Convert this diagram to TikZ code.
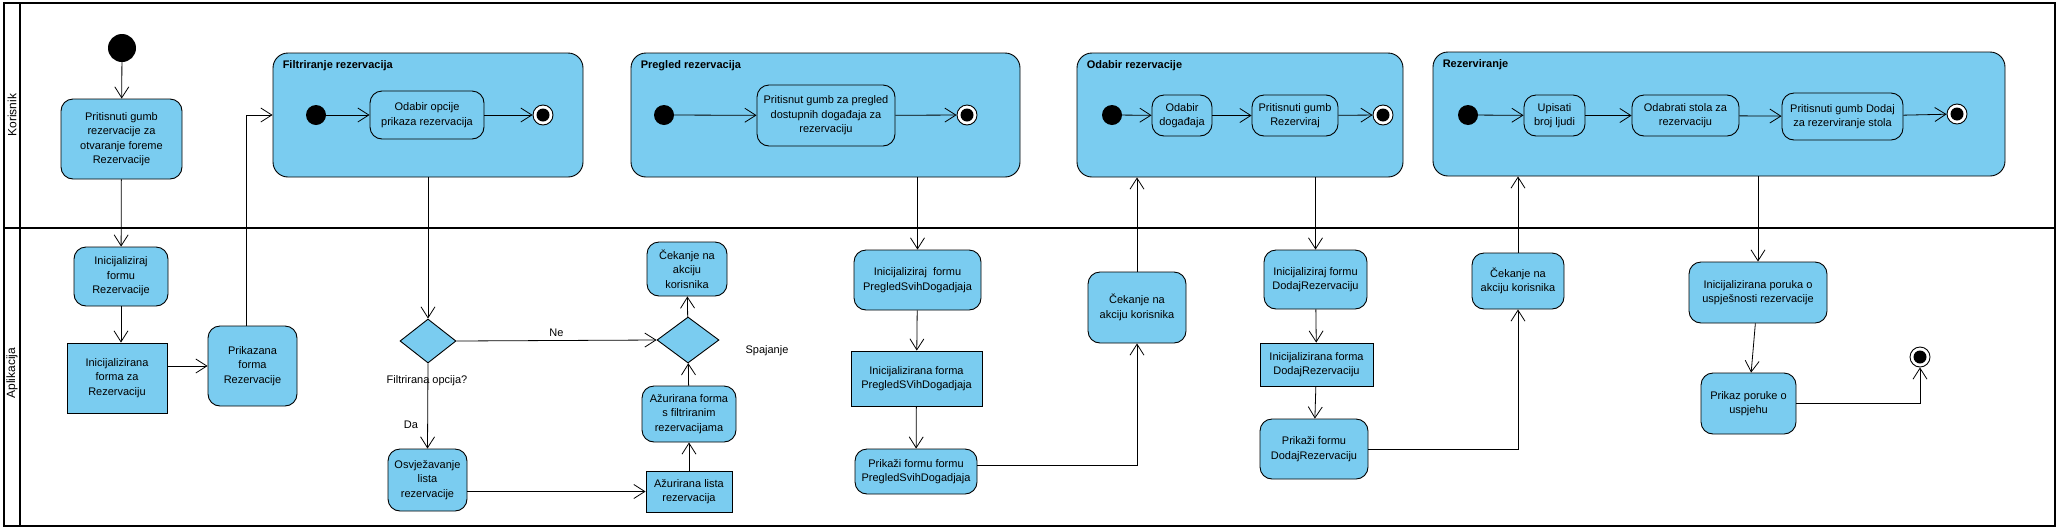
\documentclass[tikz,border=0pt]{standalone}
\usepackage{fontspec}
\setmainfont{Liberation Sans}
\usepackage{tikz}
\usetikzlibrary{arrows.meta,positioning,shapes.geometric,calc}
\definecolor{vpblue}{RGB}{122,204,240}
\newcommand{\vpfont}{\fontsize{11}{14.5}\selectfont}
\tikzset{
  line/.style={-{Straight Barb[length=11pt,width=14pt]}, line width=0.8pt},
  wh/.style 2 args={minimum width=#1pt, minimum height=#2pt},
  actbox/.style={draw, fill=vpblue, rounded corners=12pt, align=center, inner sep=2pt, line width=0.9pt},
  objbox/.style={draw, fill=vpblue, align=center, inner sep=2pt, line width=0.9pt},
  grpbox/.style={draw, fill=vpblue, rounded corners=15pt, line width=0.9pt},
  grptitle/.style={font=\vpfont\bfseries, inner sep=0pt, anchor=west},
  initnode/.style={circle, fill=black, inner sep=0pt, minimum size=20pt},
  finalnode/.style={circle, draw, fill=white, inner sep=0pt, minimum size=20pt, line width=0.9pt,
    path picture={\fill[black] (path picture bounding box.center) circle[radius=6.5pt];}},
  decision/.style={diamond, draw, fill=vpblue, inner sep=0pt, line width=0.9pt}
}

\begin{document}
\begin{tikzpicture}[x=1pt, y=-1pt, font=\vpfont]
  \useasboundingbox (0,0) rectangle (2059,531);
  \fill[white] (0,0) rectangle (2059,531);

  % swimlanes
  \draw[line width=1.4pt] (4,3) rectangle (2055,526);
  \draw[line width=2pt] (20,3) -- (20,526);
  \draw[line width=2pt] (4,228) -- (2055,228);
  \node[rotate=90, font=\fontsize{12}{14}\selectfont] (korisnik) at (12,115) {Korisnik};
  \node[rotate=90, font=\fontsize{12}{14}\selectfont] (aplikacija) at (12,373) {Aplikacija};

  % otvaranje forme
  \node[initnode, minimum size=28pt] (init) at (122,48) {};
  \node[actbox, wh={121}{80}] (gumbRez) at (121.5,139) {Pritisnuti gumb\\rezervacije za\\otvaranje foreme\\Rezervacije};
  \node[actbox, wh={94}{59}] (initRez) at (121,276.5) {Inicijaliziraj\\formu\\Rezervacije};
  \node[objbox, wh={100}{70}] (formaRez) at (117,378) {Inicijalizirana\\forma za\\Rezervaciju};
  \node[actbox, wh={89}{80}] (prikRez) at (252.5,366) {Prikazana\\forma\\Rezervacije};

  % filtriranje
  \node[grpbox, wh={310}{124}] (filt) at (428,115) {};
  \node[grptitle] (filtT) at ([xshift=10pt,yshift=-13pt]filt.north west) {Filtriranje rezervacija};
  \node[initnode] (filtI) at (316,115) {};
  \node[actbox, wh={114}{48}] (odabOpc) at (427,115) {Odabir opcije\\prikaza rezervacija};
  \node[finalnode] (filtF) at (543,115) {};

  \node[decision, wh={56}{44}] (filtDec) at (428,341) {};
  \node (filtLbl) at (427,381) {Filtrirana opcija?};
  \node[actbox, wh={79}{62}] (osvj) at (427.5,480) {Osvježavanje\\lista\\rezervacije};
  \node[objbox, wh={86}{41}] (azLista) at (689,491.5) {Ažurirana lista\\rezervacija};
  \node[actbox, wh={94}{56}] (azForma) at (689,414) {Ažurirana forma\\s filtriranim\\rezervacijama};
  \node[decision, wh={62}{46}] (spaj) at (688,340) {};
  \node (spajLbl) at (767,351) {Spajanje};
  \node[actbox, wh={80}{54}] (cekanje1) at (687,269) {Čekanje na\\akciju\\korisnika};

  % pregled
  \node[grpbox, wh={389}{124}] (preg) at (825.5,115) {};
  \node[grptitle] (pregT) at ([xshift=10pt,yshift=-13pt]preg.north west) {Pregled rezervacija};
  \node[initnode] (pregI) at (664,115) {};
  \node[actbox, wh={138}{61}] (pritPreg) at (826,115.5) {Pritisnut gumb za pregled\\dostupnih događaja za\\rezervaciju};
  \node[finalnode] (pregF) at (967,115) {};

  \node[actbox, wh={127}{60}] (iPSD) at (917.5,280) {Inicijaliziraj \ formu\\PregledSvihDogadjaja};
  \node[objbox, wh={131}{55}] (inPSD) at (916.5,378.5) {Inicijalizirana forma\\PregledSVihDogadjaja};
  \node[actbox, wh={122}{45}] (prPSD) at (916,471.5) {Prikaži formu formu\\PregledSvihDogadjaja};
  \node[actbox, wh={98}{71}] (cekanje2) at (1137,307.5) {Čekanje na\\akciju korisnika};

  % odabir
  \node[grpbox, wh={326}{124}] (odab) at (1240,115) {};
  \node[grptitle] (odabT) at ([xshift=10pt,yshift=-13pt]odab.north west) {Odabir rezervacije};
  \node[initnode] (odabI) at (1112,115) {};
  \node[actbox, wh={60}{41}] (odabDog) at (1182,115.5) {Odabir\\događaja};
  \node[actbox, wh={86}{41}] (pritRez) at (1295,115.5) {Pritisnuti gumb\\Rezerviraj};
  \node[finalnode] (odabF) at (1383,115) {};

  \node[actbox, wh={103}{59}] (iDR) at (1315.5,279.5) {Inicijaliziraj formu\\DodajRezervaciju};
  \node[objbox, wh={113}{43}] (inDR) at (1316.5,364.5) {Inicijalizirana forma\\DodajRezervaciju};
  \node[actbox, wh={108}{60}] (prDR) at (1314,449) {Prikaži formu\\DodajRezervaciju};
  \node[actbox, wh={92}{56}] (cekanje3) at (1518,281) {Čekanje na\\akciju korisnika};

  % rezerviranje
  \node[grpbox, wh={572}{124}] (rez) at (1719,114) {};
  \node[grptitle] (rezT) at ([xshift=10pt,yshift=-13pt]rez.north west) {Rezerviranje};
  \node[initnode] (rezI) at (1468,115) {};
  \node[actbox, wh={61}{41}] (upis) at (1554.5,115.5) {Upisati\\broj ljudi};
  \node[actbox, wh={107}{41}] (stol) at (1685.5,115.5) {Odabrati stola za\\rezervaciju};
  \node[actbox, wh={121}{47}] (dodaj) at (1842.5,116.5) {Pritisnuti gumb Dodaj\\za rezerviranje stola};
  \node[finalnode] (rezF) at (1957,114) {};

  \node[actbox, wh={138}{61}] (poruka) at (1758,292.5) {Inicijalizirana poruka o\\uspješnosti rezervacije};
  \node[actbox, wh={95}{61}] (prikaz) at (1748.5,403.5) {Prikaz poruke o\\uspjehu};
  \node[finalnode] (kraj) at (1920,357) {};

  % tokovi
  \draw[line] (init) -- (gumbRez);
  \draw[line] (gumbRez) -- (initRez);
  \draw[line] (initRez.south) -- (initRez.south |- formaRez.north);
  \draw[line] (formaRez.east |- prikRez) -- (prikRez.west);
  \draw[line] ([xshift=-6pt]prikRez.north) |- (filt.west);
  \draw[line] (filtI) -- (odabOpc);
  \draw[line] (odabOpc) -- (filtF);
  \draw[line] (filt.south) -- (filtDec.north);
  \draw[line] (filtDec.east) -- node[above] (neLbl) {Ne} (spaj.west);
  \draw[line] (filtDec.south) -- node[pos=0.72, left=6pt] (daLbl) {Da} (osvj.north);
  \draw[line] (osvj.east |- azLista) -- (azLista.west);
  \draw[line] (azLista) -- (azForma);
  \draw[line] (azForma) -- (spaj);
  \draw[line] (spaj) -- (cekanje1);

  \draw[line] (pregI) -- (pritPreg);
  \draw[line] (pritPreg) -- (pregF);
  \draw[line] (iPSD |- preg.south) -- (iPSD.north);
  \draw[line] (iPSD) -- (inPSD);
  \draw[line] (inPSD) -- (prPSD);
  \draw[line] ([yshift=6pt]prPSD.east) -| (cekanje2.south);
  \draw[line] (cekanje2.north) -- (cekanje2 |- odab.south);

  \draw[line] (odabI) -- (odabDog);
  \draw[line] (odabDog) -- (pritRez);
  \draw[line] (pritRez) -- (odabF);
  \draw[line] (iDR |- odab.south) -- (iDR.north);
  \draw[line] (iDR) -- (inDR);
  \draw[line] (inDR) -- (prDR);
  \draw[line] (prDR.east) -| (cekanje3.south);
  \draw[line] (cekanje3.north) -- (cekanje3 |- rez.south);

  \draw[line] (rezI) -- (upis);
  \draw[line] (upis) -- (stol);
  \draw[line] (stol) -- (dodaj);
  \draw[line] (dodaj) -- (rezF);
  \draw[line] (poruka |- rez.south) -- (poruka.north);
  \draw[line] (poruka) -- (prikaz);
  \draw[line] (prikaz.east) -| (kraj.south);
\end{tikzpicture}
\end{document}
